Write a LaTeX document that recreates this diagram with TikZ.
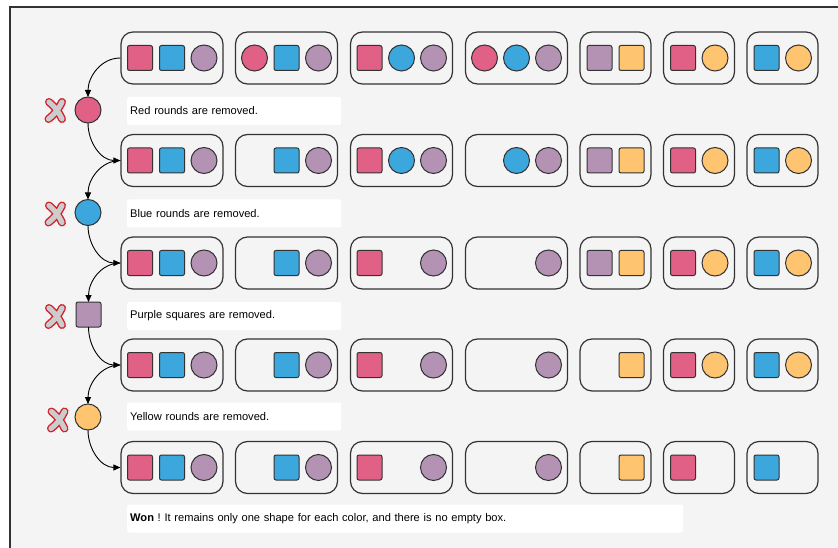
\documentclass[tikz,border=0pt]{standalone}
\usepackage{fontspec}
\setmainfont{Liberation Sans}
\usetikzlibrary{arrows.meta}
\frenchspacing
\definecolor{cred}{HTML}{E06086}
\definecolor{cblue}{HTML}{3BA7DD}
\definecolor{cpurp}{HTML}{B492B4}
\definecolor{cyel}{HTML}{FFC470}
\definecolor{bg}{HTML}{F4F4F4}
\definecolor{ln}{HTML}{333333}
\definecolor{xred}{HTML}{D0202A}
\definecolor{xgray}{HTML}{CCCCCC}
\tikzset{
  shp/.style={draw=ln, line width=1, inner sep=0, outer sep=0},
  sq/.style={shp, rectangle, rounded corners=2, minimum size=25},
  ci/.style={shp, circle, minimum size=26},
  RS/.style={sq, fill=cred}, BS/.style={sq, fill=cblue},
  PS/.style={sq, fill=cpurp}, YS/.style={sq, fill=cyel},
  RC/.style={ci, fill=cred}, BC/.style={ci, fill=cblue},
  PC/.style={ci, fill=cpurp}, YC/.style={ci, fill=cyel},
  grp/.style={draw=ln, line width=1.2, rounded corners=12, inner sep=0, minimum height=52},
  note/.style={fill=white, rounded corners=2, minimum height=28, inner xsep=3, anchor=west, align=left, font=\fontsize{11.1}{13}\selectfont},
  arr/.style={draw=black, line width=0.9, -{Triangle[length=7,width=6]}},
  xmk/.pic={
    \draw[xred, line width=8, line cap=round] (-6,-8.5) to[bend left=12] (7,8.5) (7,-8.5) to[bend left=12] (-6.5,8.5);
    \draw[xgray, line width=5.2, line cap=round] (-6,-8.5) to[bend left=12] (7,8.5) (7,-8.5) to[bend left=12] (-6.5,8.5);
  }
}
\newcommand\slotnode[3]{\if\relax\detokenize{#1}\relax\else\node[#1] (#2) at (#3) {};\fi}
\newcommand\boxthree[6]{%
  \node[grp, minimum width=102] (#1) at ({#2+51},#3) {};
  \slotnode{#4}{#1a}{{#2+19},#3}%
  \slotnode{#5}{#1b}{{#2+51},#3}%
  \slotnode{#6}{#1c}{{#2+83},#3}}
\newcommand\boxtwo[5]{%
  \node[grp, minimum width=71] (#1) at ({#2+35.5},#3) {};
  \slotnode{#4}{#1a}{{#2+19.5},#3}%
  \slotnode{#5}{#1b}{{#2+51.5},#3}}
\begin{document}
\begin{tikzpicture}[x=1pt,y=-1pt]
\useasboundingbox (0,0) rectangle (838,548);
\clip (0,0) rectangle (838,548);
\fill[white] (0,0) rectangle (838,548);
\draw[ln, line width=1.5, fill=bg] (10,7) rectangle (870,580);

% row 1
\boxthree{b11}{121}{58}{RS}{BS}{PC}
\boxthree{b12}{235.5}{58}{RC}{BS}{PC}
\boxthree{b13}{350.5}{58}{RS}{BC}{PC}
\boxthree{b14}{465.5}{58}{RC}{BC}{PC}
\boxtwo{b15}{580}{58}{PS}{YS}
\boxtwo{b16}{663.5}{58}{RS}{YC}
\boxtwo{b17}{747}{58}{BS}{YC}
% row 2
\boxthree{b21}{121}{160.5}{RS}{BS}{PC}
\boxthree{b22}{235.5}{160.5}{}{BS}{PC}
\boxthree{b23}{350.5}{160.5}{RS}{BC}{PC}
\boxthree{b24}{465.5}{160.5}{}{BC}{PC}
\boxtwo{b25}{580}{160.5}{PS}{YS}
\boxtwo{b26}{663.5}{160.5}{RS}{YC}
\boxtwo{b27}{747}{160.5}{BS}{YC}
% row 3
\boxthree{b31}{121}{263}{RS}{BS}{PC}
\boxthree{b32}{235.5}{263}{}{BS}{PC}
\boxthree{b33}{350.5}{263}{RS}{}{PC}
\boxthree{b34}{465.5}{263}{}{}{PC}
\boxtwo{b35}{580}{263}{PS}{YS}
\boxtwo{b36}{663.5}{263}{RS}{YC}
\boxtwo{b37}{747}{263}{BS}{YC}
% row 4
\boxthree{b41}{121}{365}{RS}{BS}{PC}
\boxthree{b42}{235.5}{365}{}{BS}{PC}
\boxthree{b43}{350.5}{365}{RS}{}{PC}
\boxthree{b44}{465.5}{365}{}{}{PC}
\boxtwo{b45}{580}{365}{}{YS}
\boxtwo{b46}{663.5}{365}{RS}{YC}
\boxtwo{b47}{747}{365}{BS}{YC}
% row 5
\boxthree{b51}{121}{467.5}{RS}{BS}{PC}
\boxthree{b52}{235.5}{467.5}{}{BS}{PC}
\boxthree{b53}{350.5}{467.5}{RS}{}{PC}
\boxthree{b54}{465.5}{467.5}{}{}{PC}
\boxtwo{b55}{580}{467.5}{}{YS}
\boxtwo{b56}{663.5}{467.5}{RS}{}
\boxtwo{b57}{747}{467.5}{BS}{}

% removed shapes
\node[RC] (rm1) at (88,110) {};
\node[BC] (rm2) at (88,212.5) {};
\node[PS] (rm3) at (88.5,314.5) {};
\node[YC] (rm4) at (88,417) {};

% crosses
\pic at (55,110.5) {xmk};
\pic at (55,214) {xmk};
\pic at (55,316.5) {xmk};
\pic at (57.5,420) {xmk};

% notes
\node[note, text width=208] (t1) at (127,111) {Red rounds are removed.};
\node[note, text width=208] (t2) at (127,213.5) {Blue rounds are removed.};
\node[note, text width=208] (t3) at (127,316) {Purple squares are removed.};
\node[note, text width=208] (t4) at (127,416.5) {Yellow rounds are removed.};
\node[note, text width=550] (t5) at (127,518.5) {\textbf{Won} ! It remains only one shape for each color, and there is no empty box.};

% arrows
\draw[arr] (b11.west) to[out=180,in=90] (rm1.north);
\draw[arr] (rm1.south) to[out=270,in=180] (b21.west);
\draw[arr] (b21.west) to[out=180,in=90] (rm2.north);
\draw[arr] (rm2.south) to[out=270,in=180] (b31.west);
\draw[arr] (b31.west) to[out=180,in=90] (rm3.north);
\draw[arr] (rm3.south) to[out=270,in=180] (b41.west);
\draw[arr] (b41.west) to[out=180,in=90] (rm4.north);
\draw[arr] (rm4.south) to[out=270,in=180] (b51.west);
\end{tikzpicture}
\end{document}
